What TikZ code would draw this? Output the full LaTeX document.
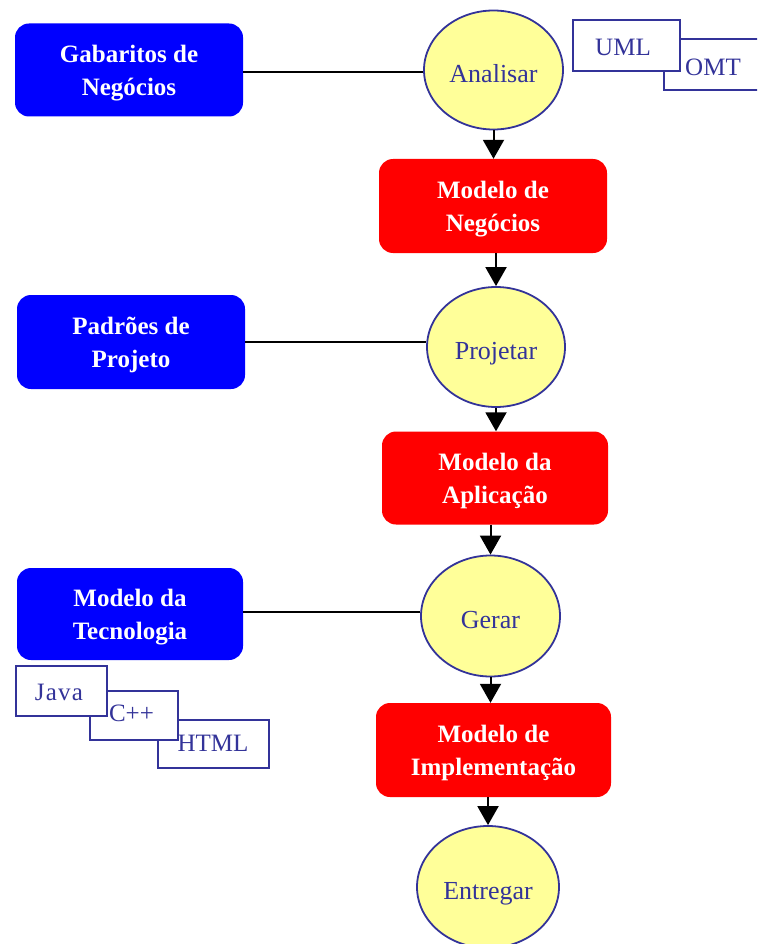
\documentclass[tikz,border=0pt]{standalone}
\usepackage{fontspec}
\setmainfont{Liberation Serif}
\usetikzlibrary{shapes.geometric,arrows.meta}
\definecolor{ink}{HTML}{333399}
\definecolor{procfill}{HTML}{FFFF99}
\definecolor{srcblue}{HTML}{0000FF}
\definecolor{modred}{HTML}{FF0000}
\tikzset{
  procnode/.style={ellipse, draw=ink, line width=1.8pt, fill=procfill, text=ink,
    font=\fontsize{26}{30}\selectfont, inner sep=0pt, text height=25pt, text depth=0pt},
  srcbox/.style={rectangle, rounded corners=14pt, fill=srcblue, inner sep=0pt},
  modbox/.style={rectangle, rounded corners=14pt, fill=modred, inner sep=0pt},
  boxtext/.style={text=white, font=\fontsize{25}{33}\bfseries, align=center,
    inner sep=0pt, yshift=-3pt},
  tagbox/.style={rectangle, draw=ink, line width=1.7pt, fill=white, inner sep=0pt},
  tagtext/.style={text=ink, font=\fontsize{25}{30}\selectfont, inner sep=0pt},
  arr/.style={line width=2pt, -{Triangle[width=21pt,length=19pt]}},
  link/.style={line width=2pt}
}
\begin{document}
\begin{tikzpicture}[x=1pt,y=-1pt]
\useasboundingbox (0,0) rectangle (757,944);
\clip (0,0) rectangle (757,944);

% central process chain
\node[procnode, minimum width=139pt, minimum height=119pt] (ana) at (493.5,70) {Analisar};
\node[modbox, minimum width=228pt, minimum height=94pt] (neg) at (493,206) {};
\node[procnode, minimum width=138pt, minimum height=120pt] (pro) at (496,347) {Projetar};
\node[modbox, minimum width=226pt, minimum height=93pt] (apl) at (495,478) {};
\node[procnode, minimum width=139pt, minimum height=121pt] (ger) at (490.5,616) {Gerar};
\node[modbox, minimum width=235pt, minimum height=94pt] (imp) at (493.5,750) {};
\node[procnode, minimum width=142pt, minimum height=122pt] (ent) at (488,887) {Entregar};
\node[boxtext] (negt) at (neg.center) {Modelo de\\Negócios};
\node[boxtext] (aplt) at (apl.center) {Modelo da\\Aplicação};
\node[boxtext] (impt) at (imp.center) {Modelo de\\Implementação};

% inputs on the left
\node[srcbox, minimum width=228pt, minimum height=93pt] (gab) at (129,70) {};
\node[srcbox, minimum width=228pt, minimum height=94pt] (pad) at (131,342) {};
\node[srcbox, minimum width=226pt, minimum height=92pt] (tec) at (130,614) {};
\node[boxtext] (gabt) at (gab.center) {Gabaritos de\\Negócios};
\node[boxtext] (padt) at (pad.center) {Padrões de\\Projeto};
\node[boxtext] (tect) at (tec.center) {Modelo da\\Tecnologia};

% connections
\draw[link] (gab.east |- 0,72) -- (ana.west |- 0,72);
\draw[link] (pad.east |- 0,342) -- (pro.west |- 0,342);
\draw[link] (tec.east |- 0,612) -- (ger.west |- 0,612);

\draw[arr] (ana.south) -- (ana.south |- neg.north);
\draw[arr] (pro.north |- neg.south) -- (pro.north);
\draw[arr] (pro.south) -- (pro.south |- apl.north);
\draw[arr] (ger.north |- apl.south) -- (ger.north);
\draw[arr] (ger.south) -- (ger.south |- imp.north);
\draw[arr] (ent.north |- imp.south) -- (ent.north);

% notations
\node[tagbox, minimum width=111pt, minimum height=51pt] (omt) at (719.5,64.5) {};
\node[tagbox, minimum width=107pt, minimum height=51pt] (uml) at (626.5,45.5) {};
\node[tagtext] (umlt) at (623,47) {UML};
\node[tagtext] (omtt) at (713,67) {OMT};

% target languages
\node[tagbox, minimum width=111pt, minimum height=48pt] (html) at (213.5,744) {};
\node[tagbox, minimum width=88pt, minimum height=49pt] (cpp) at (134,715.5) {};
\node[tagbox, minimum width=91pt, minimum height=50pt] (java) at (61.5,691) {};
\node[tagtext] (javat) at (59,692) {J\kern1.2pt a\kern1.2pt v\kern1.2pt a};
\node[tagtext] (cppt) at (131.5,713) {C++};
\node[tagtext] (htmlt) at (213,743) {HTML};
\end{tikzpicture}
\end{document}
